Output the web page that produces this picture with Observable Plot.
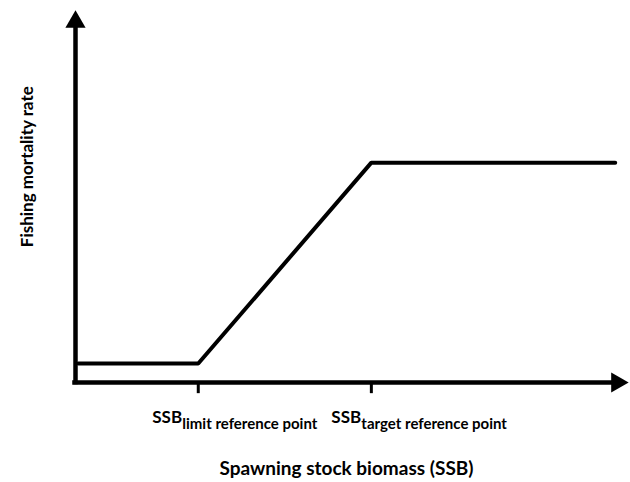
<!DOCTYPE html>
<html>
<head>
<meta charset="utf-8">
<script src="https://cdn.jsdelivr.net/npm/d3@7"></script>
<script src="https://cdn.jsdelivr.net/npm/@observablehq/plot@0.6"></script>
<style>
  html, body { margin: 0; padding: 0; background: #fff; }
  #chart { width: 630px; height: 482px; }
  text { font-family: Lato, "Open Sans", sans-serif; font-weight: bold; }
</style>
</head>
<body>
<div id="chart"></div>
<script>
// Harvest control rule: breakpoints on SSB axis (0-100 scale) and fishing mortality (0-100 scale)
const ssbPoints = [0.5, 22.2, 53.5, 97.6];
const fValues = [5.1, 5.1, 59.1, 59.1];
const tickValues = [22.2, 53.5];
const tickMain = ["SSB", "SSB"];
const tickSub = ["limit reference point", "target reference point"];
const xTitle = "Spawning stock biomass (SSB)";
const yTitle = "Fishing mortality rate";
const axisMax = 100;

const lineData = ssbPoints.map((x, i) => ({x, f: fValues[i]}));
const ticks = tickValues.map((x, i) => ({x, main: tickMain[i], sub: tickSub[i]}));

const chart = Plot.plot({
  width: 630,
  height: 482,
  marginLeft: 75,
  marginRight: 2,
  marginTop: 10,
  marginBottom: 100,
  x: {domain: [0, axisMax], axis: null},
  y: {domain: [0, axisMax], axis: null},
  style: {background: "#fff", fontFamily: "Lato, sans-serif"},
  marks: [
    // axes lines
    Plot.ruleY([0], {x1: -0.5, x2: axisMax - 2.5, stroke: "#000", strokeWidth: 4.5}),
    Plot.ruleX([0], {y1: -0.6, y2: axisMax - 4.5, stroke: "#000", strokeWidth: 4.5}),
    // arrowheads
    Plot.dot([{x: 0, y: axisMax}], {x: "x", y: "y", symbol: "triangle", r: 7.5, fill: "#000", stroke: null, dy: 11.5}),
    Plot.dot([{x: axisMax, y: 0}], {x: "x", y: "y", symbol: "triangle", r: 7.5, fill: "#000", stroke: null, rotate: 90, dx: -11.5}),
    // ticks
    Plot.ruleX(ticks, {x: "x", y1: 0, y2: -3, stroke: "#000", strokeWidth: 3}),
    // HCR line
    Plot.line(lineData, {x: "x", y: "f", stroke: "#000", strokeWidth: 4, strokeLinejoin: "miter"}),
    // tick labels
    Plot.text([ticks[0]], {x: "x", y: 0, text: "main", textAnchor: "start", dx: -46, dy: 35, fontSize: 17, fontWeight: "bold", fill: "#000"}),
    Plot.text([ticks[1]], {x: "x", y: 0, text: "main", textAnchor: "start", dx: -40, dy: 35, fontSize: 17, fontWeight: "bold", fill: "#000"}),
    Plot.text([ticks[0]], {x: "x", y: 0, text: "sub", textAnchor: "start", dx: -16, dy: 42, fontSize: 15, fontWeight: "bold", fill: "#000"}),
    Plot.text([ticks[1]], {x: "x", y: 0, text: "sub", textAnchor: "start", dx: -10, dy: 42, fontSize: 15, fontWeight: "bold", fill: "#000"}),
    // axis titles
    Plot.text([xTitle], {x: 49, y: 0, text: d => d, dy: 86, fontSize: 19, fontWeight: "bold", fill: "#000"}),
    Plot.text([yTitle], {x: 0, y: 58, text: d => d, rotate: -90, dx: -48, fontSize: 17, fontWeight: "bold", fill: "#000"})
  ]
});
document.getElementById("chart").appendChild(chart);
</script>
</body>
</html>
